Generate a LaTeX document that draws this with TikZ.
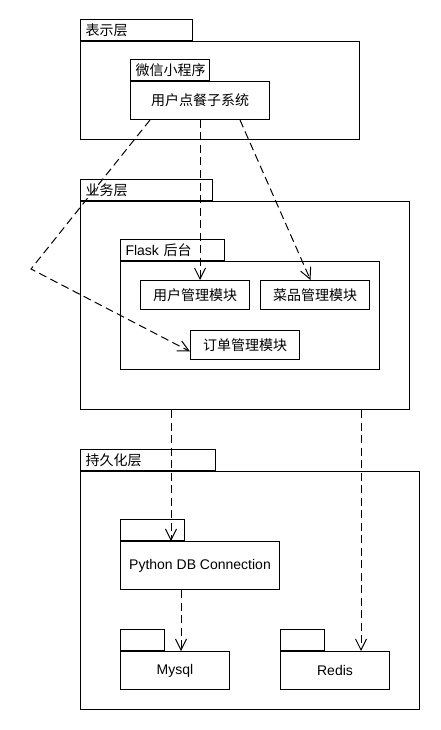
\documentclass[tikz,border=0pt]{standalone}
\usepackage{fontspec}
\setmainfont{Liberation Sans}
\newfontfamily\cjk{Noto Sans CJK SC}
\usetikzlibrary{arrows.meta}

\begin{document}
\begin{tikzpicture}[x=1pt,y=-1pt]
% Styles
\tikzstyle{corps}=[draw,line width=1pt,anchor=north west,inner sep=0pt,font=\fontsize{14}{16}\selectfont\cjk]
\tikzstyle{onglet}=[draw,line width=1pt,anchor=south west,minimum height=21pt,inner ysep=0pt,inner xsep=5pt,align=left,font=\fontsize{14}{16}\selectfont\cjk]
\tikzstyle{dep}=[-{Straight Barb[length=11pt,width=11pt]},line width=1pt,dash pattern=on 8pt off 4.5pt]
\def\lat{\fontsize{14}{16}\selectfont\rmfamily}
% Cadre
\useasboundingbox (0,0) rectangle (440,730);
% Couche presentation
\node[corps,minimum width=279pt,minimum height=98pt] (presentation) at (80,41) {};
\node[onglet,text width=102pt] (presentationT) at (presentation.north west) {表示层};
\node[corps,minimum width=139pt,minimum height=38pt] (app) at (130,81) {用户点餐子系统};
\node[onglet,text width=69pt] (appT) at (app.north west) {微信小程序};
% Couche metier
\node[corps,minimum width=329pt,minimum height=208pt] (metier) at (80,201) {};
\node[onglet,text width=122pt] (metierT) at (metier.north west) {业务层};
\node[corps,minimum width=259pt,minimum height=108pt] (flask) at (120,261) {};
\node[onglet,text width=94pt] (flaskT) at (flask.north west) {{\lat Flask} 后台};
\node[corps,minimum width=109pt,minimum height=29pt] (utilisateur) at (140,280) {用户管理模块};
\node[corps,minimum width=109pt,minimum height=29pt] (plat) at (260,280) {菜品管理模块};
\node[corps,minimum width=109pt,minimum height=29pt] (commande) at (190,330) {订单管理模块};
% Couche persistance
\node[corps,minimum width=339pt,minimum height=238pt] (persistance) at (80,471) {};
\node[onglet,text width=125pt] (persistanceT) at (persistance.north west) {持久化层};
\node[corps,font=\lat,minimum width=159pt,minimum height=48pt] (connexion) at (120,541) {Python DB Connection};
\node[onglet,text width=54pt] (connexionT) at (connexion.north west) {};
\node[corps,font=\lat,minimum width=109pt,minimum height=38pt] (mysql) at (120,651) {Mysql};
\node[onglet,text width=34pt] (mysqlT) at (mysql.north west) {};
\node[corps,font=\lat,minimum width=109pt,minimum height=38pt] (redis) at (280,651) {Redis};
\node[onglet,text width=34pt] (redisT) at (redis.north west) {};
% Dependances
\coordinate (coude) at (31,269);
\draw[dep] ([xshift=-50pt]app.south) -- (coude) -- ([yshift=-6.5pt]commande.west);
\draw[dep] (app.south) -- (app.south |- utilisateur.north);
\draw[dep] ([xshift=40pt]app.south) -- ([xshift=-4.5pt]plat.north);
\draw[dep] ([xshift=-29pt]connexion.north |- metier.south) -- ([xshift=-29pt]connexion.north);
\draw[dep] ([xshift=6pt]mysql.north |- connexion.south) -- ([xshift=6pt]mysql.north);
\draw[dep] ([xshift=26pt]redis.north |- metier.south) -- ([xshift=26pt]redis.north);
\end{tikzpicture}
\end{document}
